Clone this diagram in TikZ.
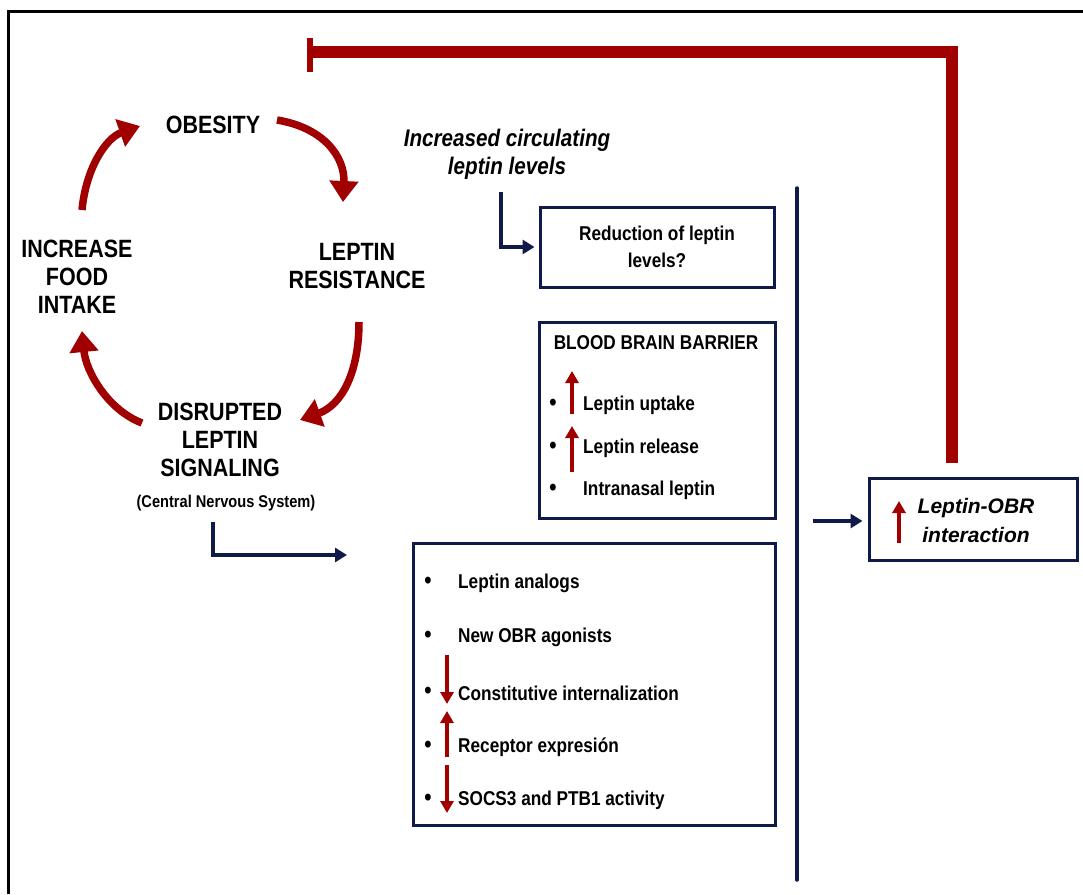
\documentclass[tikz,border=0pt]{standalone}
\usepackage{fontspec}
\setmainfont{Liberation Sans}[FakeStretch=0.86]
\newfontfamily\widefont{Liberation Sans}
\usetikzlibrary{arrows.meta}
\definecolor{redc}{HTML}{A00000}
\definecolor{navy}{HTML}{101A48}
\tikzset{
  cyc/.style={font=\bfseries\fontsize{25}{28}\selectfont, align=center, inner sep=0pt},
  cyclearrow/.style={draw=redc, line width=7.5pt, -{Triangle[length=21pt,width=28pt]}},
  bluearrow/.style={draw=navy, line width=3.5pt, -{Triangle[length=12pt,width=14pt]}},
  boxed/.style={draw=navy, line width=3pt, rectangle, inner sep=0pt},
  item/.style={font=\bfseries\fontsize{20}{22}\selectfont, anchor=west, inner sep=0pt},
  bul/.style={font=\bfseries\fontsize{24}{26}\selectfont, inner sep=0pt},
  smallred/.style={draw=redc, line width=3.5pt, -{Triangle[length=12pt,width=13pt]}},
}
\begin{document}
\begin{tikzpicture}[x=1pt,y=-1pt]
\useasboundingbox (0,0) rectangle (1083,894);
% frame
\coordinate (fbl) at (8,894);
\coordinate (ftl) at (8,11);
\coordinate (ftr) at (1083,11);
\draw[line width=3pt] (fbl) -- (ftl) -- (ftr);

% cycle labels
\node[cyc] (obesity) at (213,125) {OBESITY};
\node[cyc] (leptres) at (357,266) {LEPTIN\\RESISTANCE};
\node[cyc] (food) at (77,277) {INCREASE\\FOOD\\INTAKE};
\node[cyc] (disr) at (220,440) {DISRUPTED\\LEPTIN\\SIGNALING};
\node[font=\bfseries\fontsize{17}{19}\selectfont, inner sep=0pt] (cns) at (226,503) {(Central Nervous System)};

% cycle arrows
\coordinate (a1s) at (277,120); \coordinate (a1e) at (343,202);
\coordinate (a2s) at (359,322); \coordinate (a2e) at (300,420);
\coordinate (a3s) at (142,423); \coordinate (a3e) at (82,331);
\coordinate (a4s) at (82,210);  \coordinate (a4e) at (140,126);
\draw[cyclearrow] (a1s) .. controls (325,128) and (345,158) .. (a1e);
\draw[cyclearrow] (a2s) .. controls (359,372) and (342,405) .. (a2e);
\draw[cyclearrow] (a3s) .. controls (108,410) and (86,372) .. (a3e);
\draw[cyclearrow] (a4s) .. controls (86,168) and (106,138) .. (a4e);

% increased circulating leptin
\node[font=\bfseries\itshape\fontsize{24}{28}\selectfont, align=center, inner sep=0pt] (incr) at (507,154) {Increased circulating\\leptin levels};

% reduction box
\node[boxed, minimum width=234pt, minimum height=80pt, align=center, font=\bfseries\fontsize{20}{27}\selectfont] (redbox) at (657,247) {Reduction of leptin\\levels?};
\coordinate (e1) at (501,192);
\draw[bluearrow, shorten >=4pt] (e1) |- (redbox.west);

% BBB box
\node[boxed, minimum width=236pt, minimum height=196pt] (bbb) at (657,420) {};
\node[font=\bfseries\fontsize{20}{22}\selectfont, inner sep=0pt] (bbbt) at (656,343) {BLOOD BRAIN BARRIER};
\node[bul] (b1) at (553,405) {•};
\node[bul] (b2) at (553,448) {•};
\node[bul] (b3) at (553,490) {•};
\node[item] (t1) at (583,405) {Leptin uptake};
\node[item] (t2) at (583,448) {Leptin release};
\node[item] (t3) at (583,490) {Intranasal leptin};
\coordinate (u1s) at (572,414); \coordinate (u1e) at (572,371);
\coordinate (u2s) at (572,472); \coordinate (u2e) at (572,426);
\draw[smallred] (u1s) -- (u1e);
\draw[smallred] (u2s) -- (u2e);

% lower box
\node[boxed, minimum width=362pt, minimum height=282pt] (low) at (594,684) {};
\node[bul] (c1) at (428,583) {•};
\node[bul] (c2) at (428,637) {•};
\node[bul] (c3) at (428,693) {•};
\node[bul] (c4) at (428,747) {•};
\node[bul] (c5) at (428,800) {•};
\node[item] (s1) at (458,583) {Leptin analogs};
\node[item] (s2) at (458,637) {New OBR agonists};
\node[item] (s3) at (458,693) {Constitutive internalization};
\node[item] (s4) at (458,747) {Receptor expresión};
\node[item] (s5) at (458,800) {SOCS3 and PTB1 activity};
\coordinate (d1s) at (447,655); \coordinate (d1e) at (447,704);
\coordinate (d2s) at (447,757); \coordinate (d2e) at (447,711);
\coordinate (d3s) at (447,765); \coordinate (d3e) at (447,813);
\draw[smallred] (d1s) -- (d1e);
\draw[smallred] (d2s) -- (d2e);
\draw[smallred] (d3s) -- (d3e);

% CNS elbow arrow
\coordinate (cnsa) at (213,522);
\coordinate (cnsb) at (347,555);
\draw[bluearrow] (cnsa) |- (cnsb);

% vertical bracket line
\coordinate (vtop) at (797,188);
\coordinate (vbot) at (797,880);
\draw[draw=navy, line width=3.5pt, line cap=round] (vtop) -- (vbot);

% Leptin-OBR box
\node[boxed, minimum width=208pt, minimum height=82pt] (obr) at (973,519) {};
\node[font=\widefont\bfseries\itshape\fontsize{21}{29}\selectfont, align=center, inner sep=0pt] (obrt) at (976,520) {Leptin-OBR\\interaction};
\coordinate (ob1) at (899,543); \coordinate (ob2) at (899,501);
\draw[smallred] (ob1) -- (ob2);
\coordinate (ar1) at (813,521);
\draw[bluearrow, shorten >=5pt] (ar1) -- (ar1 -| obr.west);

% inhibition line
\coordinate (inA) at (952,463);
\coordinate (inB) at (952,52);
\coordinate (inC) at (310,52);
\coordinate (barT) at (310,38);
\coordinate (barB) at (310,72);
\draw[draw=redc, line width=12pt] (inA) -- (inB) -- (inC);
\draw[draw=redc, line width=6pt] (barT) -- (barB);
\end{tikzpicture}
\end{document}
